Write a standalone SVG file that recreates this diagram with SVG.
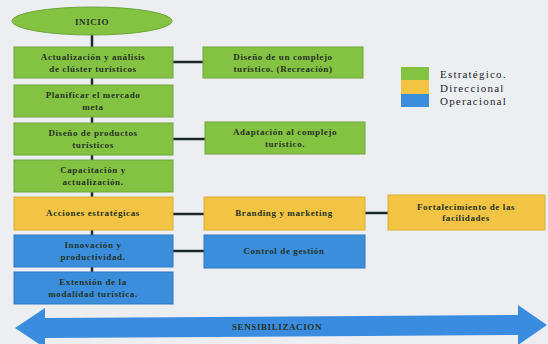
<svg xmlns="http://www.w3.org/2000/svg" width="548" height="344" viewBox="0 0 548 344">
<style>
.g{fill:#84c242;stroke:#6ea63a;stroke-width:1}
.y{fill:#f3c443;stroke:#dcae32;stroke-width:1}
.b{fill:#3b8edc;stroke:#2f78c0;stroke-width:1}
text{font-family:"Liberation Serif","DejaVu Serif",serif;font-weight:bold;font-size:9px;letter-spacing:0.6px;fill:#263326;text-anchor:middle}
.lg{text-anchor:start;font-size:11px;font-weight:normal;letter-spacing:1.2px;fill:#1e2430}
.c{stroke:#1f2826;stroke-width:2.5;fill:none}
</style>
<rect width="548" height="344" fill="#eceef2"/>
<g id="connectors">
<line class="c" x1="92" y1="35" x2="92" y2="272"/>
<line class="c" x1="173" y1="62" x2="203" y2="62"/>
<line class="c" x1="173" y1="139" x2="205" y2="139"/>
<line class="c" x1="173" y1="214" x2="204" y2="214"/>
<line class="c" x1="173" y1="251" x2="204" y2="251"/>
<line class="c" x1="365" y1="213" x2="388" y2="213"/>
</g>
<g id="inicio"><ellipse class="g" cx="92" cy="21" rx="80" ry="14"/><text x="92" y="25" font-size="10.5">INICIO</text></g>
<g id="n1"><rect class="g" x="14" y="47" width="159" height="31"/><text x="93" y="60">Actualización y análisis</text><text x="93" y="72">de clúster turísticos</text></g>
<g id="n2"><rect class="g" x="14" y="85" width="159" height="32"/><text x="93" y="98">Planificar el mercado</text><text x="93" y="110">meta</text></g>
<g id="n3"><rect class="g" x="14" y="123" width="159" height="32"/><text x="93" y="136">Diseño de productos</text><text x="93" y="148">turísticos</text></g>
<g id="n4"><rect class="g" x="14" y="160" width="159" height="32"/><text x="93" y="173">Capacitación y</text><text x="93" y="185">actualización.</text></g>
<g id="n5"><rect class="y" x="14" y="197" width="159" height="33"/><text x="93" y="216">Acciones estratégicas</text></g>
<g id="n6"><rect class="b" x="14" y="235" width="159" height="32"/><text x="93" y="248">Innovación y</text><text x="93" y="260">productividad.</text></g>
<g id="n7"><rect class="b" x="14" y="272" width="159" height="32"/><text x="93" y="285">Extensión de la</text><text x="93" y="297">modalidad turística.</text></g>
<g id="r1"><rect class="g" x="203" y="47" width="160" height="31"/><text x="283" y="60">Diseño de un complejo</text><text x="283" y="72">turístico. (Recreación)</text></g>
<g id="r2"><rect class="g" x="205" y="122" width="160" height="32"/><text x="285" y="135">Adaptación al complejo</text><text x="285" y="147">turístico.</text></g>
<g id="r3"><rect class="y" x="204" y="197" width="161" height="33"/><text x="284" y="216">Branding y marketing</text></g>
<g id="r4"><rect class="b" x="204" y="235" width="161" height="33"/><text x="284" y="254">Control de gestión</text></g>
<g id="r5"><rect class="y" x="388" y="195" width="157" height="35"/><text x="466" y="210">Fortalecimiento de las</text><text x="466" y="221">facilidades</text></g>
<g id="legend">
<rect x="401" y="67" width="28" height="13" fill="#84c242"/>
<rect x="401" y="80" width="28" height="14" fill="#f3c443"/>
<rect x="401" y="94" width="28" height="13" fill="#3b8edc"/>
<text class="lg" x="440" y="78">Estratégico.</text>
<text class="lg" x="440" y="92">Direccional</text>
<text class="lg" x="440" y="105">Operacional</text>
</g>
<g id="sensibilizacion">
<polygon fill="#3a8ce0" points="15,328 45,308 45,318 518,315 518,305 547,325 518,345 518,335 45,338 45,348"/>
<text x="277" y="330" font-size="7.5">SENSIBILIZACION</text>
</g>
</svg>
